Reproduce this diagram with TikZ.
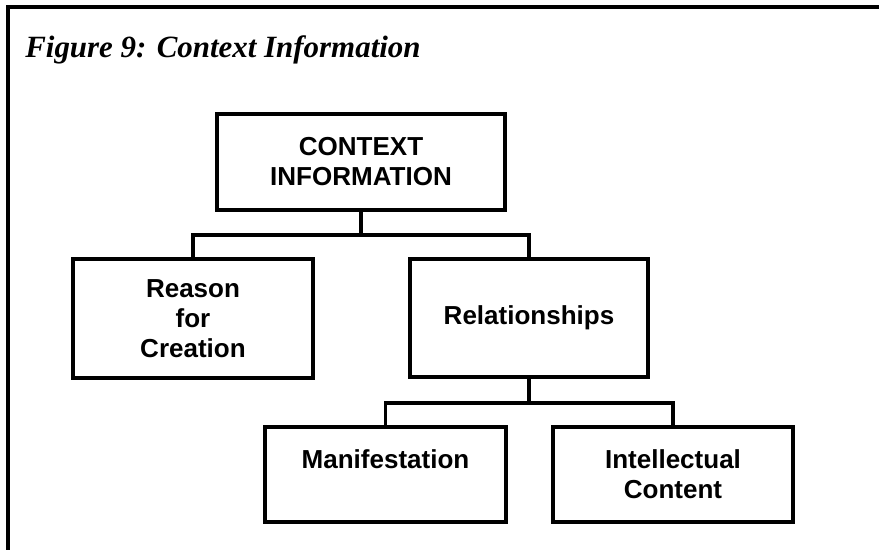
\documentclass[tikz,border=0pt]{standalone}
\usepackage{fontspec}
\setmainfont{Liberation Serif}
\newfontfamily\boxfont{Liberation Sans}
\begin{document}
\begin{tikzpicture}[x=0.025cm,y=-0.025cm,
    box/.style={draw, line width=2.4pt, inner sep=0pt, align=center,
      font=\boxfont\bfseries\fontsize{18.5}{21.3}\selectfont},
    link/.style={line width=2.4pt}]
\useasboundingbox (0,0) rectangle (879,550);

% frame and caption
\draw[line width=2.85pt] (8,550) -- (8,7) -- (879,7);
\node[anchor=base west, inner sep=0pt, font=\fontsize{22}{26}\selectfont\bfseries\itshape] (title) at (25,58) {Figure 9: Context Information};

\node[box, minimum width=7.2cm, minimum height=2.4cm] (info) at (361,162) {CONTEXT\\INFORMATION};
\node[box, minimum width=6cm, minimum height=2.975cm] (reason) at (193,318.5) {Reason\\for\\Creation};
\node[box, minimum width=5.95cm, minimum height=2.95cm] (rel) at (529,318) {Relationships};
\node[box, minimum width=6.025cm, minimum height=2.375cm] (manif) at (385.5,474.5) {Manifestation\\~};
\node[box, minimum width=6cm, minimum height=2.375cm] (intel) at (673,474.5) {Intellectual\\Content};

\coordinate (bar1) at (0,235);
\coordinate (bar2) at (0,403);

\draw[link] (info.south) -- (info.south |- bar1);
\draw[link] (reason.north) -- (reason.north |- bar1) -- (rel.north |- bar1) -- (rel.north);

\draw[link] (rel.south) -- (rel.south |- bar2);
\draw[link] (manif.north) -- (manif.north |- bar2) -- (intel.north |- bar2) -- (intel.north);

\end{tikzpicture}
\end{document}
